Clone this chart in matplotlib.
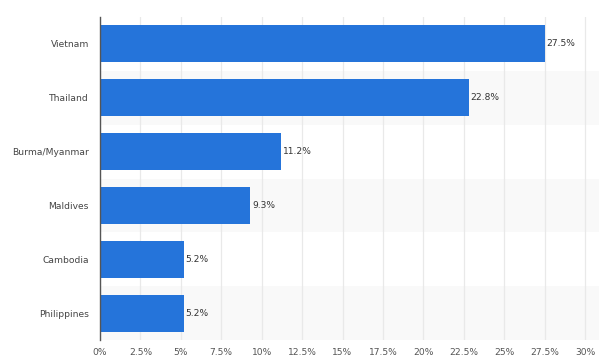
import matplotlib.pyplot as plt

# Share of respondents (%) by destination
countries = ["Vietnam", "Thailand", "Burma/Myanmar", "Maldives", "Cambodia", "Philippines"]
shares = [27.5, 22.8, 11.2, 9.3, 5.2, 5.2]
x_ticks = [0, 2.5, 5, 7.5, 10, 12.5, 15, 17.5, 20, 22.5, 25, 27.5, 30]
x_tick_labels = ["0%", "2.5%", "5%", "7.5%", "10%", "12.5%", "15%", "17.5%",
                 "20%", "22.5%", "25%", "27.5%", "30%"]


def main():
    fig = plt.figure(figsize=(5.99, 3.61), dpi=100)
    ax = fig.add_axes([100 / 599, 21 / 361, 499 / 599, 323 / 361])

    # alternating row bands
    for i in range(len(countries)):
        if i % 2 == 1:
            ax.axhspan(i - 0.5, i + 0.5, color="#f9f9f9", zorder=0, lw=0)

    ax.barh(range(len(countries)), shares, height=0.69, color="#2574da", zorder=3)

    for i, v in enumerate(shares):
        ax.text(v + 0.1, i, f"{v}%", va="center", ha="left", fontsize=6.6, color="#333333", zorder=4)

    ax.set_xlim(0, 30 * 499 / 485)
    ax.set_ylim(len(countries) - 0.5, -0.5)
    ax.set_yticks(range(len(countries)))
    ax.set_yticklabels(countries, fontsize=6.6, color="#444444")
    ax.set_xticks(x_ticks)
    ax.set_xticklabels(x_tick_labels, fontsize=6.6, color="#555555")
    ax.tick_params(axis="both", length=0)
    ax.tick_params(axis="y", pad=8)
    ax.tick_params(axis="x", pad=6)

    ax.grid(axis="x", color="#e9e9e9", linewidth=0.9, zorder=1)
    ax.set_axisbelow(True)
    for side in ["top", "right", "bottom"]:
        ax.spines[side].set_visible(False)
    ax.spines["left"].set_color("#555555")
    ax.spines["left"].set_linewidth(1.0)
    ax.spines["left"].set_zorder(5)

    plt.savefig("out.png", dpi=100)


if __name__ == "__main__":
    main()
